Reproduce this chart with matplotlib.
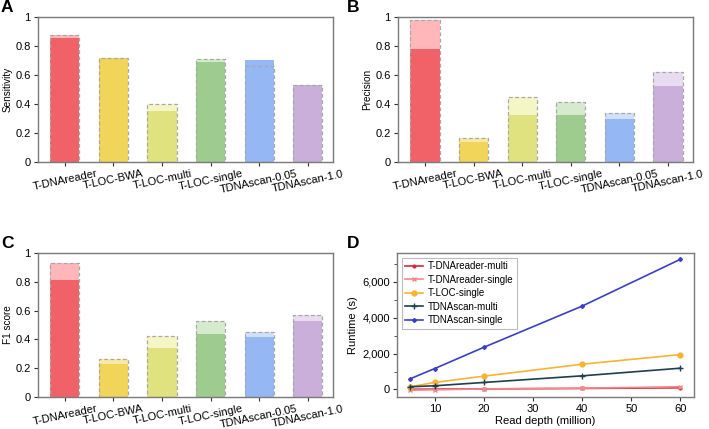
import matplotlib
matplotlib.use("Agg")
import matplotlib.pyplot as plt
import matplotlib.ticker as mticker
import numpy as np

plt.rcParams['font.family'] = ['Liberation Sans', 'DejaVu Sans']

tools = ["T-DNAreader", "T-LOC-BWA", "T-LOC-multi", "T-LOC-single", "TDNAscan-0.05", "TDNAscan-1.0"]
solid_colors = ["#f06268", "#f1d45a", "#e0e27f", "#9ecc8e", "#95b7f3", "#c9afd9"]
light_colors = ["#ffb7ba", "#f8eaa6", "#f5f6c6", "#d6ebcd", "#d0dffb", "#e8dcf0"]

sens_solid = [0.855, 0.72, 0.355, 0.69, 0.703, 0.53]
sens_dashed = [0.88, 0.72, 0.40, 0.715, 0.667, 0.533]
prec_solid = [0.78, 0.143, 0.326, 0.326, 0.299, 0.529]
prec_dashed = [0.983, 0.166, 0.448, 0.418, 0.343, 0.62]
f1_solid = [0.811, 0.233, 0.343, 0.44, 0.417, 0.53]
f1_dashed = [0.931, 0.265, 0.424, 0.525, 0.454, 0.567]

depth = [5, 10, 20, 40, 60]
rt_tdnareader_multi = [10, 18, 30, 55, 90]
rt_tdnareader_single = [-40, -20, 30, 70, 150]
rt_tloc_single = [150, 389, 741, 1407, 1944]
rt_tdnascan_multi = [148, 204, 389, 759, 1185]
rt_tdnascan_single = [593, 1167, 2352, 4648, 7259]

W, H = 709, 429
fig = plt.figure(figsize=(W / 100, H / 100), dpi=100)

def ax_at(l, r, t, b):
    return fig.add_axes([l / W, 1 - b / H, (r - l) / W, (b - t) / H])

spine_col = "#7a7a7a"

def style(ax):
    for s in ax.spines.values():
        s.set_color(spine_col)
        s.set_linewidth(1.0)
    ax.tick_params(axis='both', colors="#333333", labelcolor="black", labelsize=8,
                   length=3, width=0.8, pad=2)

def bar_panel(ax, solid, dashed, ylabel):
    x = np.arange(len(tools))
    w = 0.6
    ax.bar(x, dashed, w, color=light_colors, edgecolor='none', zorder=1)
    ax.bar(x, solid, w, color=solid_colors, edgecolor='none', zorder=2)
    ax.bar(x, dashed, w, color='none', edgecolor="#a8a8a8", linestyle=(0, (3, 2)),
           linewidth=0.9, zorder=3)
    ax.set_xlim(-0.56, 5.52)
    ax.set_ylim(0, 1)
    ax.set_yticks([0, 0.2, 0.4, 0.6, 0.8, 1.0])
    ax.set_yticklabels(["0", "0.2", "0.4", "0.6", "0.8", "1"])
    ax.set_xticks(x)
    ax.set_xticklabels(tools, rotation=12, ha='center')
    ax.set_ylabel(ylabel, fontsize=7.2, labelpad=2)
    style(ax)
    ax.tick_params(axis='x', labelsize=8, pad=1.5)

axA = ax_at(37.7, 333, 17.3, 162.3)
bar_panel(axA, sens_solid, sens_dashed, "Sensitivity")
axB = ax_at(397.7, 693.3, 17.3, 162.3)
bar_panel(axB, prec_solid, prec_dashed, "Precision")
axC = ax_at(37.7, 333, 252.7, 397.3)
bar_panel(axC, f1_solid, f1_dashed, "F1 score")

axD = ax_at(396.7, 694, 252.7, 396.7)
axD.plot(depth, rt_tdnareader_multi, color="#d7263d", marker='.', markersize=4, lw=1.2,
         label="T-DNAreader-multi")
axD.plot(depth, rt_tdnareader_single, color="#f4868c", marker='x', markersize=3.5, lw=1.2,
         label="T-DNAreader-single")
axD.plot(depth, rt_tloc_single, color="#f9b232", marker='o', markersize=3.5, lw=1.2,
         label="T-LOC-single")
axD.plot(depth, rt_tdnascan_multi, color="#1d3f4e", marker='+', markersize=4.5, lw=1.2,
         label="TDNAscan-multi")
axD.plot(depth, rt_tdnascan_single, color="#3b3fc6", marker='D', markersize=2, lw=1.2,
         label="TDNAscan-single")
axD.set_xticks([10, 20, 30, 40, 50, 60])
axD.set_yticks([0, 2000, 4000, 6000])
axD.yaxis.set_major_formatter(mticker.FuncFormatter(lambda v, p: f"{int(v):,}"))
axD.yaxis.set_minor_locator(mticker.MultipleLocator(1000))
axD.set_xlabel("Read depth (million)", fontsize=8, labelpad=2)
axD.set_ylabel("Runtime (s)", fontsize=8, labelpad=3)
style(axD)
axD.tick_params(axis='y', which='minor', length=2, width=0.6, colors="#333333")
leg = axD.legend(loc='upper left', fontsize=7, frameon=True, fancybox=False,
                 borderpad=0.4, labelspacing=0.35, handlelength=1.8, handletextpad=0.5,
                 borderaxespad=0.5)
leg.get_frame().set_edgecolor("#aaaaaa")
leg.get_frame().set_linewidth(0.8)

for lbl, (x, y) in zip("ABCD", [(1, 8), (347, 8), (1, 244), (347, 244)]):
    fig.text(x / W, 1 - y / H, lbl, fontsize=12.5, fontweight='bold', va='center', ha='left')

fig.savefig("out.png", dpi=100)
